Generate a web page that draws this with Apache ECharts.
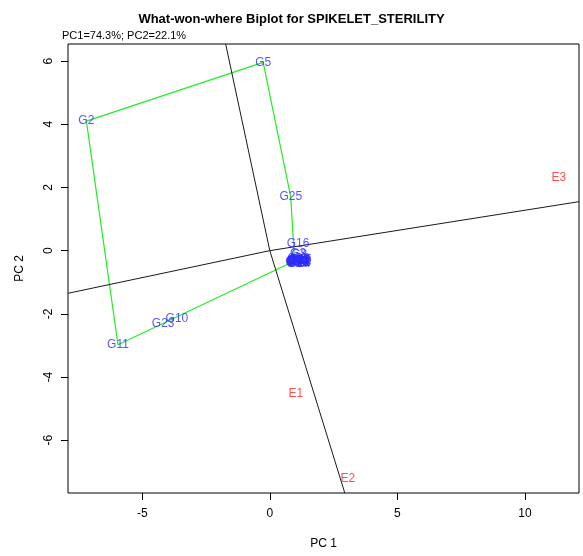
<!DOCTYPE html>
<html>
<head>
<meta charset="utf-8">
<script src="https://cdn.jsdelivr.net/npm/echarts@6/dist/echarts.min.js"></script>
<style>
  html, body { margin: 0; padding: 0; background: #fff; }
  #chart { width: 583px; height: 556px; }
</style>
</head>
<body>
<div id="chart"></div>
<script>
// Genotype scores (PC1, PC2)
const genoNames = ['G2', 'G5', 'G11', 'G23', 'G10', 'G25', 'G16', 'G3', 'G8', 'G7',
  'G1', 'G4', 'G6', 'G9', 'G12', 'G13', 'G14', 'G15', 'G17', 'G18', 'G19', 'G20', 'G21', 'G22', 'G24'];
const genoX = [-7.19, -0.26, -5.95, -4.18, -3.64, 0.82, 1.11, 1.11, 1.15, 0.97,
  1.06, 1.10, 1.14, 1.18, 1.08, 1.12, 1.16, 1.20, 1.05, 1.13, 1.17, 1.09, 1.15, 1.19, 1.11];
const genoY = [4.10, 5.96, -2.98, -2.30, -2.14, 1.71, 0.23, -0.11, -0.14, -0.33,
  -0.30, -0.34, -0.28, -0.36, -0.38, -0.32, -0.40, -0.30, -0.36, -0.26, -0.33, -0.40, -0.37, -0.31, -0.35];

// Environment scores (PC1, PC2)
const envNames = ['E1', 'E2', 'E3'];
const envX = [1.02, 3.06, 11.33];
const envY = [-4.54, -7.22, 2.30];

// Vertex genotypes of the convex hull, in drawing order
const hullOrder = ['G2', 'G5', 'G25', 'G7', 'G11', 'G2'];

// Sector boundary rays from the origin (end points)
const rayX = [-1.73, 12.12, 2.94, -7.91];
const rayY = [6.54, 1.55, -7.67, -1.35];

// Axis ranges and tick labels
const xRange = [-7.91, 12.12];
const yRange = [-7.67, 6.54];
const xTicks = [-5, 0, 5, 10];
const yTicks = [-6, -4, -2, 0, 2, 4, 6];

const genoPts = genoNames.map((n, i) => ({ name: n, value: [genoX[i], genoY[i]] }));
const envPts = envNames.map((n, i) => ({ name: n, value: [envX[i], envY[i]] }));
const hullPts = hullOrder.map(n => {
  const i = genoNames.indexOf(n);
  return [genoX[i], genoY[i]];
});

const raySeries = rayX.map((x, i) => ({
  type: 'line',
  data: [[0, 0], [x, rayY[i]]],
  symbol: 'none',
  silent: true,
  clip: true,
  lineStyle: { color: '#1a1a1a', width: 1 },
  z: 3
}));

const fontFam = 'Liberation Sans, Arial, sans-serif';

const chart = echarts.init(document.getElementById('chart'), null, { renderer: 'canvas' });
chart.setOption({
  animation: false,
  backgroundColor: '#fff',
  title: {
    text: 'What-won-where Biplot for SPIKELET_STERILITY',
    left: 'center',
    top: 8,
    textStyle: { fontFamily: fontFam, fontSize: 13, fontWeight: 'bold', color: '#000' }
  },
  graphic: [{
    type: 'text',
    left: 62,
    top: 30,
    style: { text: 'PC1=74.3%; PC2=22.1%', fontFamily: fontFam, fontSize: 11, fill: '#000' }
  }],
  grid: {
    left: 68, right: 4, top: 44, bottom: 63,
    show: true, borderColor: '#000', borderWidth: 1, backgroundColor: 'transparent'
  },
  xAxis: {
    type: 'value',
    min: xRange[0], max: xRange[1],
    name: 'PC 1',
    nameLocation: 'middle',
    nameGap: 45,
    nameTextStyle: { fontFamily: fontFam, fontSize: 12, color: '#000' },
    axisLine: { show: false, onZero: false },
    axisTick: { show: true, inside: false, length: 7, customValues: xTicks, lineStyle: { color: '#000' } },
    axisLabel: { customValues: xTicks, margin: 15, fontFamily: fontFam, fontSize: 12, color: '#000' },
    splitLine: { show: false }
  },
  yAxis: {
    type: 'value',
    min: yRange[0], max: yRange[1],
    name: 'PC 2',
    nameLocation: 'middle',
    nameGap: 42,
    nameRotate: 90,
    nameTextStyle: { fontFamily: fontFam, fontSize: 12, color: '#000' },
    axisLine: { show: false, onZero: false },
    axisTick: { show: true, inside: false, length: 7, customValues: yTicks, lineStyle: { color: '#000' } },
    axisLabel: { customValues: yTicks, rotate: 90, margin: 13, fontFamily: fontFam, fontSize: 12, color: '#000' },
    splitLine: { show: false }
  },
  series: [
    {
      type: 'line',
      data: hullPts,
      symbol: 'none',
      silent: true,
      clip: true,
      lineStyle: { color: '#22ee22', width: 1.2 },
      z: 2
    },
    ...raySeries,
    {
      type: 'scatter',
      data: genoPts,
      symbolSize: 1,
      itemStyle: { color: 'rgba(0,0,0,0)' },
      label: {
        show: true,
        position: 'inside',
        formatter: p => p.name,
        fontFamily: fontFam,
        fontSize: 12,
        color: '#2b2bff'
      },
      z: 5
    },
    {
      type: 'scatter',
      data: envPts,
      symbolSize: 1,
      itemStyle: { color: 'rgba(0,0,0,0)' },
      label: {
        show: true,
        position: 'inside',
        formatter: p => p.name,
        fontFamily: fontFam,
        fontSize: 12,
        color: '#ff2222'
      },
      z: 5
    }
  ]
});
</script>
</body>
</html>
